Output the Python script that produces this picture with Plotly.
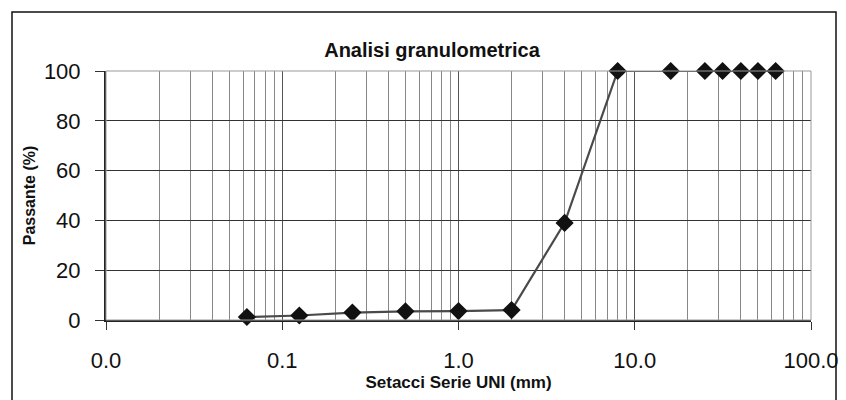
import plotly.graph_objects as go

sieve_mm = [0.063, 0.125, 0.25, 0.5, 1, 2, 4, 8, 16, 25, 31.5, 40, 50, 63]
passing_pct = [1.2, 1.8, 3.0, 3.5, 3.6, 4.0, 39, 100, 100, 100, 100, 100, 100, 100]

x_tick_vals = [0.01, 0.1, 1, 10, 100]
x_tick_text = ["0.0", "0.1", "1.0", "10.0", "100.0"]
y_tick_vals = [0, 20, 40, 60, 80, 100]

W, H = 846, 400
L, R, T, B = 106, 846 - 811, 71, 400 - 320
PW, PH = W - L - R, H - T - B

fig = go.Figure()
fig.add_trace(go.Scatter(
    x=sieve_mm, y=passing_pct, mode="lines+markers",
    line=dict(color="#4a4a4a", width=2.2),
    marker=dict(symbol="diamond", size=14, color="#111111"),
    showlegend=False, cliponaxis=False,
))

font = "Liberation Sans, Arial, Helvetica, sans-serif"
fig.update_layout(
    width=W, height=H,
    margin=dict(l=L, r=R, t=T, b=B, autoexpand=False),
    paper_bgcolor="white", plot_bgcolor="white",
    font=dict(family=font, color="#111111"),
    title=dict(text="<b>Analisi granulometrica</b>", x=432 / W,
               xanchor="center", y=1 - 50 / H, yanchor="middle",
               font=dict(size=20, family=font, color="#111111")),
    xaxis=dict(
        type="log", range=[-2, 2], automargin=False,
        tickvals=x_tick_vals, ticktext=x_tick_text,
        tickfont=dict(size=22, family=font),
        ticks="outside", ticklen=8, tickcolor="#333333",
        ticklabelstandoff=12, ticklabeloverflow="allow",
        showline=True, linecolor="#222222", linewidth=2, mirror=False,
        showgrid=True, gridcolor="#555555", gridwidth=1,
        minor=dict(showgrid=True, gridcolor="#888888", gridwidth=1, dtick="D1", ticks=""),
        title=dict(text="<b>Setacci Serie UNI (mm)</b>", font=dict(size=17, family=font), standoff=0),
        zeroline=False,
    ),
    yaxis=dict(
        range=[0, 100], tickvals=y_tick_vals, automargin=False,
        tickfont=dict(size=22, family=font),
        ticks="outside", ticklen=9, tickcolor="#333333",
        ticklabelstandoff=10,
        showline=True, linecolor="#222222", linewidth=2,
        showgrid=True, gridcolor="#333333", gridwidth=1,
        title=dict(text="<b>Passante (%)</b>", font=dict(size=16, family=font), standoff=4),
        zeroline=False,
    ),
    shapes=[
        dict(type="rect", xref="paper", yref="paper",
             x0=(12 - L) / PW, x1=(836 - L) / PW,
             y0=-(B + 20) / PH, y1=1 + (T - 12) / PH,
             line=dict(color="#111111", width=1.5), fillcolor="rgba(0,0,0,0)", layer="below"),
        dict(type="rect", xref="paper", yref="paper", x0=0, x1=1, y0=0, y1=1,
             line=dict(color="#999999", width=1), fillcolor="rgba(0,0,0,0)", layer="above"),
    ],
)

fig.write_html(
    "out.html",
    config={"displayModeBar": False},
    post_script=(
        "document.documentElement.style.overflow='hidden';"
        "document.body.style.margin='0';document.body.style.overflow='hidden';"
    ),
)
